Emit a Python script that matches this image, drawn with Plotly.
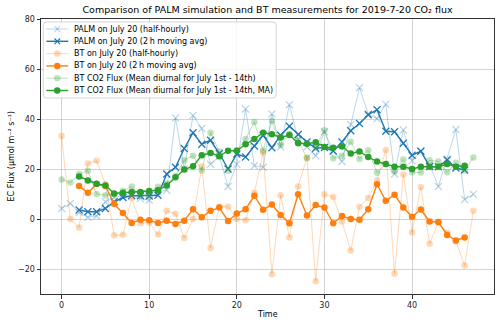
import plotly.graph_objects as go

# ---------------- data ----------------
time = list(range(48))

palm_hh = [4.2, 6.2, 2.6, 0.7, 1.2, 6.9, 8.5, 9.5, 9.5, 8.2,
           7.5, 11.0, 11.5, 40.4, 20.0, 41.4, 36.2, 21.9, 25.0, 13.0,
           21.9, 44.0, 21.3, 20.7, 42.0, 28.9, 45.7, 31.8, 28.8, 25.3,
           34.9, 27.2, 23.0, 37.8, 52.5, 42.0, 40.1, 45.9, 18.0, 35.6,
           23.3, 27.2, 21.6, 13.0, 24.0, 35.8, 7.8, 9.9]

palm_ma = [None, None,
           3.6, 2.9, 2.9, 4.2, 6.9, 8.6, 9.3, 9.3, 9.2, 9.5,
           18.0, 20.7, 28.2, 34.5, 29.9, 31.5, 26.2, 20.0, 26.0, 24.8,
           29.2, 33.5, 28.5, 33.5, 37.1, 33.8, 30.8, 28.3, 28.6, 27.2,
           30.8, 35.3, 38.2, 41.7, 43.7, 35.1, 34.9, 30.3, 25.5, 27.1,
           21.0, 20.9, 23.6, 20.4, 19.6, None]

bt_hh = [33.2, 0.0, -3.4, 22.2, 23.3, 14.0, -6.5, -6.3, 8.5, -1.7,
         -1.5, -6.2, 3.3, 2.1, -7.6, 0.0, 21.0, -11.6, 4.9, 4.9,
         0.0, -0.5, 10.5, 26.6, -22.1, 9.5, -7.4, 13.0, 24.6, -24.9,
         9.9, 8.8, -1.0, -12.6, 4.9, 8.4, 15.4, 27.6, -21.8, 17.8,
         -5.4, 12.8, -9.9, -1.4, -5.4, -8.9, -18.6, 3.3]

bt_ma = [None, None,
         13.2, 10.5, 14.0, 13.2, 6.1, 2.4, -1.6, -0.3, -0.5, -1.6,
         -0.7, -2.0, -0.7, 3.9, 0.7, 3.3, 4.6, -0.8, 2.2, 3.9,
         9.3, 3.7, 5.8, 1.6, -1.7, 9.9, 1.4, 5.6, 4.6, -1.7,
         1.2, 0.0, -0.3, 3.9, 13.9, 7.3, 9.7, 4.6, 0.9, 3.8,
         -1.0, -1.2, -6.4, -8.6, -7.4, None]

mean_hh = [15.8, 14.6, 18.0, 19.3, 10.0, 9.5, 10.0, 11.3, 13.0, 9.5,
           9.4, 12.9, 14.2, 17.1, 23.5, 25.3, 19.4, 34.5, 27.0, 19.3,
           27.5, 32.0, 38.8, 27.4, 39.2, 29.6, 34.0, 31.4, 24.3, 28.6,
           35.5, 24.3, 25.3, 30.9, 24.0, 27.5, 18.5, 22.0, 19.0, 23.8,
           18.7, 18.6, 23.5, 23.0, 18.7, 22.5, 19.4, 24.6]

mean_ma = [None, None,
           17.0, 15.4, 14.1, 13.4, 10.2, 10.5, 10.8, 10.8, 11.2, 11.5,
           13.4, 16.7, 19.8, 21.1, 25.5, 26.4, 25.1, 27.3, 27.3, 29.9,
           32.0, 34.5, 33.9, 32.6, 33.6, 30.3, 30.1, 30.7, 28.8, 28.5,
           29.0, 26.2, 27.0, 24.8, 23.0, 22.0, 20.9, 20.9, 20.0, 20.9,
           20.9, 20.9, 22.0, 20.9, 21.3, None]

labels = ["PALM on July 20 (half-hourly)",
          "PALM on July 20 (2\u2009h moving avg)",
          "BT on July 20 (half-hourly)",
          "BT on July 20 (2\u2009h moving avg)",
          "BT CO2 Flux (Mean diurnal for July 1st - 14th)",
          "BT CO2 Flux (Mean diurnal for July 1st - 14th, MA)"]

x_ticks = [0, 10, 20, 30, 40]
y_ticks = [-20, 0, 20, 40, 60, 80]

# ---------------- styles ----------------
BLUE = "#1f77b4"
ORANGE = "#ff7f0e"
GREEN = "#2ca02c"
BLUE_L = "rgba(31,119,180,0.3)"
ORANGE_L = "rgba(255,127,14,0.3)"
GREEN_L = "rgba(44,160,44,0.3)"

series = [
    (palm_hh, BLUE_L, "x-thin", 7, 1.0),
    (palm_ma, BLUE, "x-thin", 7, 1.4),
    (bt_hh, ORANGE_L, "circle", 6.5, 1.0),
    (bt_ma, ORANGE, "circle", 6.5, 1.4),
    (mean_hh, GREEN_L, "circle", 6.5, 1.0),
    (mean_ma, GREEN, "circle", 6.5, 1.4),
]


def make_marker(col, sym, msz):
    if sym == "x-thin":
        return dict(symbol=sym, size=msz, line=dict(color=col, width=1.2), color=col)
    return dict(symbol=sym, size=msz, color=col, line=dict(width=0))


fig = go.Figure()
for (vals, col, sym, msz, lw) in series:
    fig.add_trace(go.Scatter(x=time, y=vals, mode="lines+markers",
                             line=dict(color=col, width=lw), marker=make_marker(col, sym, msz),
                             connectgaps=False, showlegend=False))

# ---------------- manual legend drawn as layout shapes (pixel offsets inside plot area) ----------------
PW, PH = 453.6, 275.0


def px(xp):
    return xp / PW


def py(yp):
    return 1 - yp / PH


shapes = []
box_x0, box_x1, box_y0, box_y1 = 2.3, 235.5, 3.0, 79.0
r = 3.0
path = (f"M {px(box_x0 + r)} {py(box_y0)} L {px(box_x1 - r)} {py(box_y0)} "
        f"Q {px(box_x1)} {py(box_y0)} {px(box_x1)} {py(box_y0 + r)} "
        f"L {px(box_x1)} {py(box_y1 - r)} Q {px(box_x1)} {py(box_y1)} {px(box_x1 - r)} {py(box_y1)} "
        f"L {px(box_x0 + r)} {py(box_y1)} Q {px(box_x0)} {py(box_y1)} {px(box_x0)} {py(box_y1 - r)} "
        f"L {px(box_x0)} {py(box_y0 + r)} Q {px(box_x0)} {py(box_y0)} {px(box_x0 + r)} {py(box_y0)} Z")
shapes.append(dict(type="path", path=path, xref="paper", yref="paper", layer="above",
                   fillcolor="rgba(255,255,255,0.8)", line=dict(color="rgba(204,204,204,0.8)", width=1)))
row_y = [10.0, 22.3, 34.6, 46.9, 59.2, 71.5]
gx0, gxm, gx1 = 5.3, 16.3, 27.3
for (vals, col, sym, msz, lw), yy, name in zip(series, row_y, labels):
    shapes.append(dict(type="line", xref="paper", yref="paper", layer="above",
                       x0=px(gx0), x1=px(gx1), y0=py(yy), y1=py(yy),
                       line=dict(color=col, width=lw)))
    h = msz / 2.0
    if sym == "x-thin":
        hx = h * 0.8
        for sgn in (1, -1):
            shapes.append(dict(type="line", xref="paper", yref="paper", layer="above",
                               x0=px(gxm - hx), x1=px(gxm + hx),
                               y0=py(yy - sgn * hx), y1=py(yy + sgn * hx),
                               line=dict(color=col, width=1.2)))
    else:
        shapes.append(dict(type="circle", xref="paper", yref="paper", layer="above",
                           x0=px(gxm - h), x1=px(gxm + h), y0=py(yy - h), y1=py(yy + h),
                           fillcolor=col, line=dict(width=0)))
    fig.add_annotation(x=px(31.3), y=py(yy), xref="paper", yref="paper", text=name,
                       showarrow=False, xanchor="left", yanchor="middle",
                       font=dict(size=8, color="#000000", family="DejaVu Sans"))

grid = "rgba(176,176,176,0.55)"
fig.update_layout(
    width=500, height=323,
    margin=dict(l=41, r=6, t=19, b=29),
    plot_bgcolor="white", paper_bgcolor="white",
    font=dict(family="DejaVu Sans", size=8, color="#262626"),
    showlegend=False,
    shapes=shapes,
    title=dict(text="Comparison of PALM simulation and BT measurements for 2019-7-20 CO\u2082 flux",
               xref="paper", x=0.5, xanchor="center",
               yref="container", y=1 - 10 / 323, yanchor="middle",
               font=dict(size=9.5, color="#000000", family="DejaVu Sans")),
    xaxis=dict(range=[-2.35, 49.35], tickvals=x_ticks, showgrid=True, gridcolor=grid, gridwidth=0.8,
               zeroline=False, showline=True, linecolor="#333333", linewidth=1, mirror=True,
               ticks="outside", ticklen=3.5, tickwidth=0.8, tickcolor="#333333"),
    yaxis=dict(range=[-30, 80], tickvals=y_ticks, showgrid=True, gridcolor=grid, gridwidth=0.8,
               zeroline=False, showline=True, linecolor="#333333", linewidth=1, mirror=True,
               ticks="outside", ticklen=3.5, tickwidth=0.8, tickcolor="#333333"),
)
fig.add_annotation(text="Time", xref="paper", yref="paper", x=0.5, y=-20 / 275,
                   showarrow=False, xanchor="center", yanchor="middle",
                   font=dict(size=8, color="#000000"))
fig.add_annotation(text="EC Flux (\u03bcmol m\u207b\u00b2 s\u207b\u00b9)",
                   xref="paper", yref="paper", x=-30 / 453.6, y=0.5, textangle=-90,
                   showarrow=False, xanchor="center", yanchor="middle",
                   font=dict(size=8, color="#000000"))

fig.write_html("out.html")
